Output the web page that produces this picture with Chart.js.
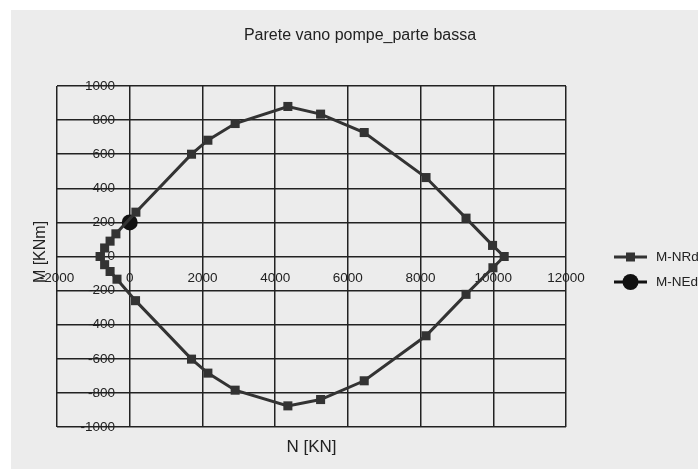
<!DOCTYPE html>
<html>
<head>
<meta charset="utf-8">
<script src="https://cdn.jsdelivr.net/npm/chart.js@4/dist/chart.umd.min.js"></script>
<style>
  html, body { margin: 0; padding: 0; background: #fff; }
  #wrap { width: 698px; height: 469px; }
</style>
</head>
<body>
<div id="wrap"><canvas id="dominio" width="698" height="469"></canvas></div>
<script>
// dominio M-N resistente (N in KN, M in KNm)
var nRd = [-810, -690, -540, -380, 170, 1700, 2150, 2900, 4350, 5250, 6450, 8150, 9250, 9980, 10300,
           9990, 9250, 8150, 6450, 5250, 4350, 2900, 2150, 1700, 160, -350, -540, -690, -810];
var mRd = [0, 50, 90, 133, 260, 600, 682, 780, 880, 835, 727, 463, 225, 65, 0,
           -66, -222, -465, -729, -839, -876, -784, -684, -602, -259, -133, -88, -48, 0];
// sollecitazione di progetto
var nEd = [0];
var mEd = [200];

var xTicks = [-2000, 0, 2000, 4000, 6000, 8000, 10000, 12000];
var yTicks = [-1000, -800, -600, -400, -200, 0, 200, 400, 600, 800, 1000];

var titolo = 'Parete vano pompe_parte bassa';
var titoloX = 'N [KN]';
var titoloY = 'M [KNm]';
var serie = ['M-NRd', 'M-NEd'];

var FONT = "'Liberation Sans', Arial, sans-serif";
var GRIGIO = '#333333';
var GRIGLIA = '#222222';

function punti(xs, ys) {
  var out = [];
  for (var i = 0; i < xs.length; i++) out.push({x: xs[i], y: ys[i]});
  return out;
}

function etichetta(v) { return String(v); }

// sfondo, titoli e legenda disegnati a mano
var decorazioni = {
  id: 'decorazioni',
  beforeDraw: function(chart) {
    var ctx = chart.ctx;
    ctx.save();
    ctx.fillStyle = '#ffffff';
    ctx.fillRect(0, 0, chart.width, chart.height);
    ctx.fillStyle = '#ececec';
    ctx.fillRect(11, 10, chart.width - 11, chart.height - 10);
    ctx.restore();
  },
  afterDraw: function(chart) {
    var ctx = chart.ctx;
    var area = chart.chartArea;
    ctx.save();
    ctx.fillStyle = '#222';
    ctx.textAlign = 'center';
    ctx.textBaseline = 'alphabetic';
    ctx.font = '16px ' + FONT;
    ctx.fillText(titolo, 360, 40);

    ctx.font = '17px ' + FONT;
    ctx.fillText(titoloX, (area.left + area.right) / 2, 452);

    ctx.save();
    ctx.translate(41, 252);
    ctx.rotate(-Math.PI / 2);
    ctx.textBaseline = 'middle';
    ctx.font = '16px ' + FONT;
    ctx.fillText(titoloY, 0, 0);
    ctx.restore();

    // legenda
    var ly = [257, 282];
    for (var i = 0; i < serie.length; i++) {
      ctx.strokeStyle = i === 0 ? GRIGIO : '#111';
      ctx.lineWidth = 3;
      ctx.beginPath();
      ctx.moveTo(614, ly[i]);
      ctx.lineTo(647, ly[i]);
      ctx.stroke();
      ctx.fillStyle = i === 0 ? GRIGIO : '#111';
      if (i === 0) {
        ctx.fillRect(626, ly[i] - 4.5, 9, 9);
      } else {
        ctx.beginPath();
        ctx.arc(630.5, ly[i], 8, 0, Math.PI * 2);
        ctx.fill();
      }
      ctx.fillStyle = '#222';
      ctx.textAlign = 'left';
      ctx.textBaseline = 'middle';
      ctx.font = '13.5px ' + FONT;
      ctx.fillText(serie[i], 656, ly[i]);
    }
    ctx.restore();
  }
};

var ctx = document.getElementById('dominio').getContext('2d');
var grafico = new Chart(ctx, {
  type: 'scatter',
  data: {
    datasets: [{
      label: serie[0],
      data: punti(nRd, mRd),
      showLine: true,
      borderColor: GRIGIO,
      backgroundColor: GRIGIO,
      borderWidth: 3,
      pointStyle: 'rect',
      pointRadius: 6.4,
      pointBorderWidth: 0,
      tension: 0
    }, {
      label: serie[1],
      data: punti(nEd, mEd),
      borderColor: '#111',
      backgroundColor: '#111',
      pointStyle: 'circle',
      pointRadius: 8,
      pointBorderWidth: 0
    }]
  },
  options: {
    responsive: false,
    animation: false,
    layout: { padding: { left: 57, right: 132, top: 86, bottom: 42 } },
    plugins: {
      legend: { display: false },
      title: { display: false },
      tooltip: { enabled: false }
    },
    scales: {
      x: {
        type: 'linear',
        position: { y: 0 },
        min: -2000,
        max: 12000,
        afterBuildTicks: function(scale) {
          scale.ticks = xTicks.map(function(v) { return {value: v}; });
        },
        grid: { color: GRIGLIA, lineWidth: 1.5, drawTicks: false },
        border: { display: false },
        ticks: {
          font: { family: FONT, size: 13.5 },
          color: '#222',
          padding: 14,
          maxRotation: 0,
          autoSkip: false,
          callback: etichetta
        }
      },
      // scala nascosta spostata: serve solo a staccare le etichette di M dall'asse N=0
      xEtichette: {
        type: 'linear',
        axis: 'x',
        display: false,
        min: -1595,
        max: 12405
      },
      y: {
        type: 'linear',
        position: { xEtichette: 0 },
        min: -1000,
        max: 1000,
        afterBuildTicks: function(scale) {
          scale.ticks = yTicks.map(function(v) { return {value: v}; });
        },
        grid: { color: GRIGLIA, lineWidth: 1.5, drawTicks: false },
        border: { display: false },
        ticks: {
          font: { family: FONT, size: 13.5 },
          color: '#222',
          autoSkip: false,
          callback: etichetta
        }
      }
    }
  },
  plugins: [decorazioni]
});
</script>
</body>
</html>
